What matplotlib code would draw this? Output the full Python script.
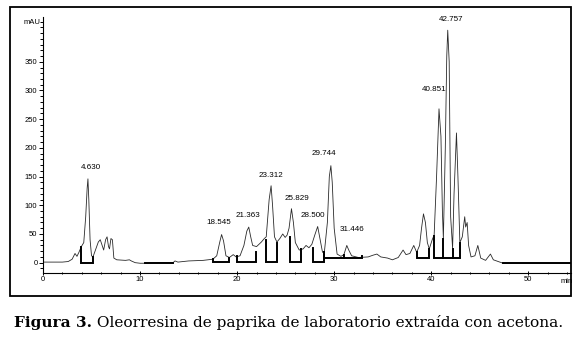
import matplotlib
matplotlib.use("Agg")
import matplotlib.pyplot as plt
from matplotlib.patches import Rectangle
from matplotlib.ticker import MultipleLocator

tiempo = [0.0, 2.0, 2.6, 3.0, 3.3, 3.5, 3.7, 3.95, 4.2, 4.4, 4.55, 4.63, 4.72, 4.85,
          5.0, 5.15, 5.4, 5.7, 5.9, 6.1, 6.25, 6.45, 6.6, 6.75, 6.85, 7.0, 7.15, 7.3,
          7.6, 8.5, 8.9, 9.1, 9.5, 10.0, 10.5, 12.0, 13.4, 13.6, 13.9, 15.0, 16.5,
          17.5, 17.9, 18.2, 18.4, 18.6, 18.85, 19.2, 19.6, 19.9, 20.3, 20.7, 21.0,
          21.2, 21.4, 21.6, 22.0, 22.5, 22.8, 23.0, 23.3, 23.5, 23.65, 23.85, 24.1,
          24.4, 24.7, 24.95, 25.15, 25.35, 25.6, 25.8, 26.0, 26.4, 26.8, 27.1, 27.4,
          27.7, 28.0, 28.3, 28.55, 28.8, 29.0, 29.3, 29.5, 29.66, 29.8, 30.0, 30.3,
          30.7, 31.0, 31.3, 31.5, 31.8, 32.5, 33.5, 34.0, 34.4, 34.8, 35.5, 36.0,
          36.6, 37.1, 37.4, 37.8, 38.2, 38.5, 38.8, 39.0, 39.2, 39.4, 39.6, 39.8,
          40.1, 40.3, 40.55, 40.8, 41.0, 41.15, 41.25, 41.45, 41.6, 41.7, 41.85,
          42.0, 42.2, 42.35, 42.6, 42.75, 42.95, 43.2, 43.45, 43.55, 43.7, 43.85,
          44.1, 44.5, 44.8, 45.1, 45.6, 46.1, 46.4, 47.4, 54.5]
senal = [1, 1, 2, 6, 16, 11, 18, 28, 35, 80, 130, 146, 110, 40,
         12, 10, 22, 36, 40, 30, 22, 40, 45, 28, 24, 42, 40, 8,
         5, 4, 5, 3, 0, -1, -1, 0, 0, 3, 1, 3, 4,
         6, 12, 35, 49, 38, 12, 9, 14, 10, 12, 30, 55,
         62, 45, 30, 28, 36, 42, 45, 110, 134, 100, 45, 36,
         42, 50, 44, 48, 60, 94, 70, 35, 22, 24, 30, 26,
         32, 48, 63, 40, 18, 20, 70, 150, 169, 140, 60, 15,
         11, 14, 30, 22, 12, 9, 10, 13, 15, 10, 8, 5,
         9, 22, 14, 16, 30, 18, 30, 60, 85, 70, 35, 24,
         40, 48, 150, 268, 220, 90, 42, 200, 360, 405, 350,
         80, 25, 120, 226, 150, 35, 45, 80, 62, 70, 30,
         10, 12, 30, 8, 4, 15, 5, -1, -1]

# líneas base de integración
bases_x = [[3.95, 3.95, 5.1, 5.1], [10.5, 13.4], [17.5, 17.5, 19.2, 19.2],
           [20.0, 20.0, 21.9, 21.9], [23.0, 23.0, 24.1, 24.1],
           [25.4, 25.4, 26.6, 26.6], [27.8, 27.8, 28.9, 28.9],
           [28.9, 28.9, 32.9, 32.9], [31.0, 31.0],
           [38.5, 38.5, 39.8, 39.8], [40.3, 40.3, 42.95, 42.95], [41.2, 41.2],
           [42.2, 42.2], [47.4, 54.5]]
bases_y = [[28, 0, 0, 10], [-1, -1], [7, 2, 2, 9],
           [11, 2, 2, 18], [40, 2, 2, 35],
           [45, 2, 2, 24], [26, 2, 2, 18],
           [18, 9, 9, 12], [9, 14],
           [18, 8, 8, 24], [46, 8, 8, 35], [8, 42], [8, 24], [-1, -1]]

# etiquetas de tiempos de retención
etiquetas = ["4.630", "18.545", "21.363", "23.312", "25.829", "28.500",
             "29.744", "31.446", "40.851", "42.757"]
etq_x = [4.95, 18.1, 21.1, 23.5, 26.2, 27.8, 28.9, 31.8, 40.3, 42.0]
etq_y = [165, 70, 83, 152, 112, 83, 191, 58, 302, 424]

fig = plt.figure(figsize=(5.78, 3.37), dpi=100)
ax = fig.add_axes([43 / 578, 1 - 273 / 337, (571 - 43) / 578, (273 - 17) / 337])

ax.plot(tiempo, senal, color="#2a2a2a", lw=0.6)
for bx, by in zip(bases_x, bases_y):
    ax.plot(bx, by, color="black", lw=1.4, solid_joinstyle="miter")

for t, x, y in zip(etiquetas, etq_x, etq_y):
    ax.text(x, y, t, fontsize=5.8, family="Liberation Sans", ha="center", va="center")

ax.set_xlim(0, 54.4)
ax.set_ylim(-18, 428)
ax.spines["top"].set_visible(False)
ax.spines["right"].set_visible(False)
ax.spines["left"].set_linewidth(0.8)
ax.spines["bottom"].set_linewidth(0.8)
ax.xaxis.set_major_locator(MultipleLocator(10))
ax.xaxis.set_minor_locator(MultipleLocator(2))
ax.yaxis.set_major_locator(MultipleLocator(50))
ax.yaxis.set_minor_locator(MultipleLocator(10))
ax.set_yticks([0, 50, 100, 150, 200, 250, 300, 350])
ax.tick_params(axis="both", which="major", labelsize=5.5, length=3, width=0.7, pad=1)
ax.tick_params(axis="both", which="minor", length=2, width=0.7)
ax.tick_params(axis="x", which="both", direction="inout")
for lab in ax.get_xticklabels() + ax.get_yticklabels():
    lab.set_family("Liberation Sans")
ax.set_xticks([0, 10, 20, 30, 40, 50])

ax.text(-0.3, 418, "mAU", fontsize=5.5, family="Liberation Sans", ha="right", va="center")
ax.text(53.9, -27, "min", fontsize=5.5, family="Liberation Sans", ha="center", va="top")

# marco exterior
fig.patches.append(Rectangle((10 / 578, 1 - 296 / 337), 561 / 578, 289 / 337,
                             transform=fig.transFigure, fill=False, lw=1.3,
                             edgecolor="black"))

# pie de figura
fig.canvas.draw()
r = fig.canvas.get_renderer()
negrita = fig.text(0, 0, "Figura 3.", fontsize=11.1, family="DejaVu Serif",
                   weight="bold")
resto = fig.text(0, 0, " Oleorresina de paprika de laboratorio extraída con acetona.",
                 fontsize=11.1, family="DejaVu Serif")
w1 = negrita.get_window_extent(r).width
w2 = resto.get_window_extent(r).width
x0 = (578 - (w1 + w2)) / 2
negrita.set_position((x0 / 578, 1 - 327 / 337))
resto.set_position(((x0 + w1) / 578, 1 - 327 / 337))

fig.savefig("out.png", dpi=100)
